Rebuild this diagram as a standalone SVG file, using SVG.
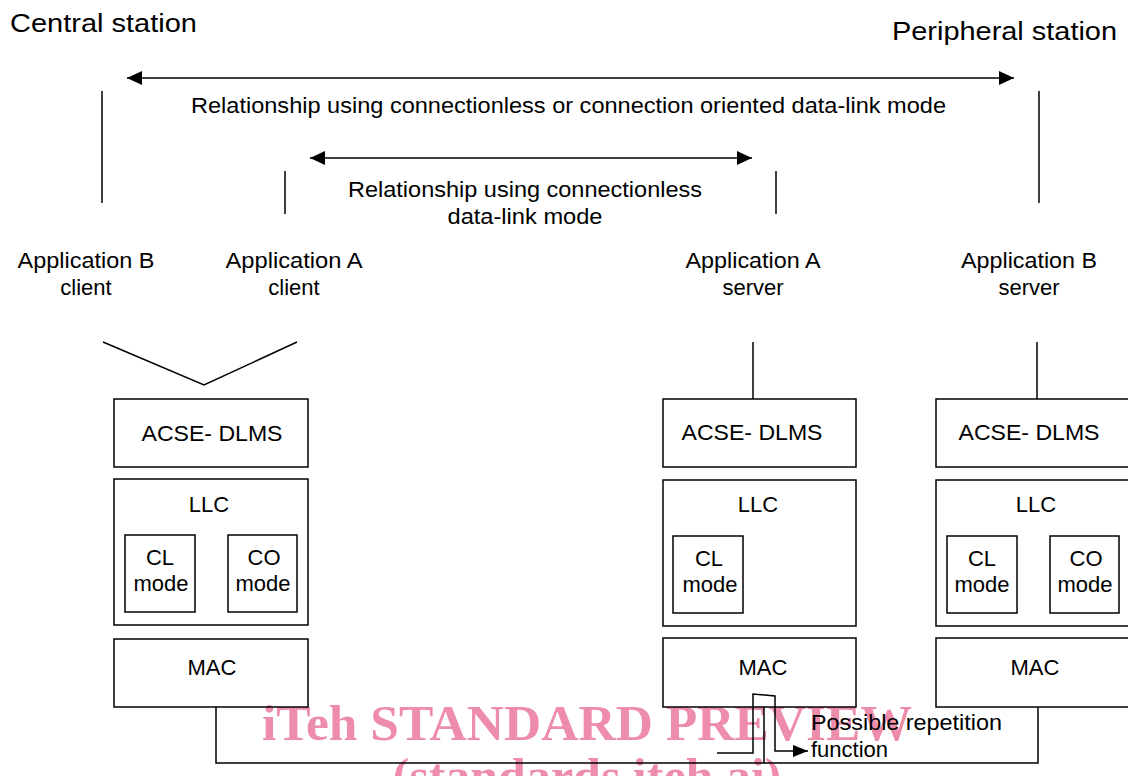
<svg xmlns="http://www.w3.org/2000/svg" width="1128" height="776" viewBox="0 0 1128 776">
<style>
  text { font-family: "Liberation Sans", Arial, sans-serif; font-size: 22px; fill: #000; }
  .big { font-size: 26px; }
  .mid { text-anchor: middle; }
  .box { fill: none; stroke: #000; stroke-width: 1.5; }
  .ln { fill: none; stroke: #000; stroke-width: 1.5; }
  .wm { font-family: "Liberation Serif", "Times New Roman", serif; font-weight: bold; font-size: 50px; fill: #ee8cab; }
</style>
<defs>
  <marker id="ah" markerUnits="userSpaceOnUse" markerWidth="16" markerHeight="14" refX="15" refY="7" orient="auto-start-reverse">
    <path d="M0,0 L15,7 L0,14 Z" fill="#000"/>
  </marker>
  <marker id="ahs" markerUnits="userSpaceOnUse" markerWidth="16" markerHeight="12" refX="15" refY="6" orient="auto">
    <path d="M0,0 L15,6 L0,12 Z" fill="#000"/>
  </marker>
</defs>
<rect width="1128" height="776" fill="#fff"/>

<!-- watermark -->
<g id="watermark">
  <text class="wm" x="262" y="740" textLength="650" lengthAdjust="spacingAndGlyphs">iTeh STANDARD PREVIEW</text>
  <text class="wm" x="587" y="793" text-anchor="middle">(standards.iteh.ai)</text>
</g>

<g id="titles">
  <text class="big" x="10" y="32" textLength="187" lengthAdjust="spacingAndGlyphs">Central station</text>
  <text class="big" x="892" y="40" textLength="225" lengthAdjust="spacingAndGlyphs">Peripheral station</text>
</g>

<g id="relationship-labels">
  <text x="191" y="113" textLength="755" lengthAdjust="spacingAndGlyphs">Relationship using connectionless or connection oriented data-link mode</text>
  <text class="mid" x="525" y="197" textLength="354" lengthAdjust="spacingAndGlyphs">Relationship using connectionless</text>
  <text class="mid" x="525" y="224" textLength="155" lengthAdjust="spacingAndGlyphs">data-link mode</text>
</g>

<g id="app-b-client">
  <text class="mid" x="86" y="268" textLength="137" lengthAdjust="spacingAndGlyphs">Application B</text>
  <text class="mid" x="86" y="295">client</text>
</g>
<g id="app-a-client">
  <text class="mid" x="294" y="268" textLength="137" lengthAdjust="spacingAndGlyphs">Application A</text>
  <text class="mid" x="294" y="295">client</text>
</g>
<g id="app-a-server">
  <text class="mid" x="753" y="268" textLength="135" lengthAdjust="spacingAndGlyphs">Application A</text>
  <text class="mid" x="753" y="295">server</text>
</g>
<g id="app-b-server">
  <text class="mid" x="1029" y="268" textLength="136" lengthAdjust="spacingAndGlyphs">Application B</text>
  <text class="mid" x="1029" y="295">server</text>
</g>

<!-- Central station stack -->
<g id="central-acse">
  <rect class="box" x="114" y="399" width="194" height="68"/>
  <text class="mid" x="212" y="441" textLength="141" lengthAdjust="spacingAndGlyphs">ACSE- DLMS</text>
</g>
<g id="central-llc">
  <rect class="box" x="114" y="479" width="194" height="146"/>
  <text class="mid" x="209" y="512">LLC</text>
</g>
<g id="central-cl">
  <rect class="box" x="125" y="535" width="70" height="77"/>
  <text class="mid" x="160" y="565">CL</text>
  <text class="mid" x="161" y="591">mode</text>
</g>
<g id="central-co">
  <rect class="box" x="228" y="535" width="69" height="77"/>
  <text class="mid" x="264" y="565">CO</text>
  <text class="mid" x="263" y="591">mode</text>
</g>
<g id="central-mac">
  <rect class="box" x="114" y="639" width="194" height="68"/>
  <text class="mid" x="212" y="675">MAC</text>
</g>

<!-- Application A server stack -->
<g id="serverA-acse">
  <rect class="box" x="663" y="399" width="193" height="68"/>
  <text class="mid" x="752" y="440" textLength="141" lengthAdjust="spacingAndGlyphs">ACSE- DLMS</text>
</g>
<g id="serverA-llc">
  <rect class="box" x="663" y="480" width="193" height="146"/>
  <text class="mid" x="758" y="512">LLC</text>
</g>
<g id="serverA-cl">
  <rect class="box" x="673" y="536" width="70" height="77"/>
  <text class="mid" x="709" y="566">CL</text>
  <text class="mid" x="710" y="592">mode</text>
</g>
<g id="serverA-mac">
  <rect class="box" x="663" y="638" width="193" height="69"/>
  <text class="mid" x="763" y="675">MAC</text>
</g>

<!-- Application B server stack -->
<g id="serverB-acse">
  <rect class="box" x="936" y="399" width="195" height="68"/>
  <text class="mid" x="1029" y="440" textLength="141" lengthAdjust="spacingAndGlyphs">ACSE- DLMS</text>
</g>
<g id="serverB-llc">
  <rect class="box" x="936" y="480" width="195" height="146"/>
  <text class="mid" x="1036" y="512">LLC</text>
</g>
<g id="serverB-cl">
  <rect class="box" x="947" y="536" width="70" height="77"/>
  <text class="mid" x="982" y="566">CL</text>
  <text class="mid" x="982" y="592">mode</text>
</g>
<g id="serverB-co">
  <rect class="box" x="1050" y="536" width="69" height="77"/>
  <text class="mid" x="1086" y="566">CO</text>
  <text class="mid" x="1085" y="592">mode</text>
</g>
<g id="serverB-mac">
  <rect class="box" x="936" y="638" width="195" height="69"/>
  <text class="mid" x="1035" y="675">MAC</text>
</g>

<g id="repetition-label">
  <text x="811" y="730" textLength="191" lengthAdjust="spacingAndGlyphs">Possible repetition</text>
  <text x="811" y="757">function</text>
</g>

<g id="connectors">
  <line class="ln" x1="127" y1="78" x2="1014" y2="78" marker-start="url(#ah)" marker-end="url(#ah)"/>
  <line class="ln" x1="310" y1="158" x2="752" y2="158" marker-start="url(#ah)" marker-end="url(#ah)"/>
  <line class="ln" x1="102" y1="91" x2="102" y2="203"/>
  <line class="ln" x1="285" y1="171" x2="285" y2="214"/>
  <line class="ln" x1="776" y1="171" x2="776" y2="214"/>
  <line class="ln" x1="1039" y1="91" x2="1039" y2="203"/>
  <polyline class="ln" points="103,342 204,385 297,342"/>
  <line class="ln" x1="753" y1="342" x2="753" y2="399"/>
  <line class="ln" x1="1037" y1="342" x2="1037" y2="399"/>
  <polyline class="ln" points="216,707 216,763 1038,763 1038,707"/>
  <line class="ln" x1="764" y1="707" x2="764" y2="763"/>
  <polyline class="ln" points="717,753 753,753 753,694 775,696 775,751 808,751" marker-end="url(#ahs)"/>
</g>
</svg>
